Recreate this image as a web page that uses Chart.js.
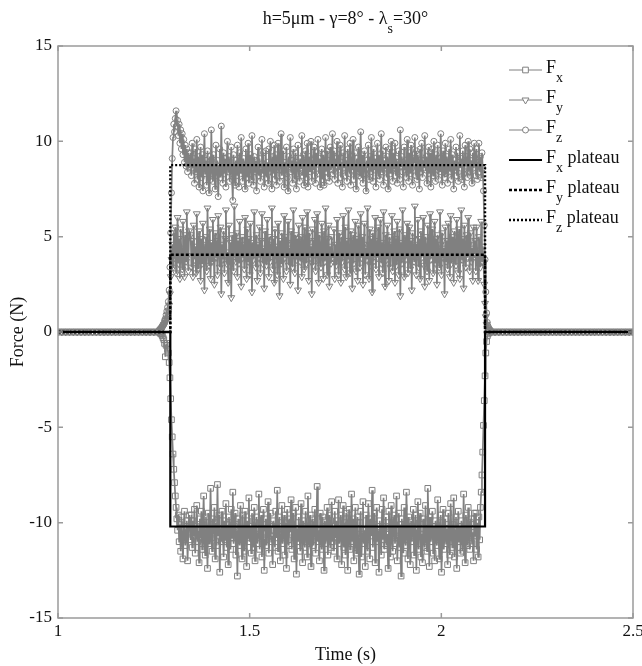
<!DOCTYPE html>
<html><head><meta charset="utf-8">
<script src="https://cdn.jsdelivr.net/npm/chart.js@4.4.1/dist/chart.umd.min.js"></script>
<style>html,body{margin:0;padding:0;background:#fff;}#wrap{width:642px;height:666px;position:relative;}</style>
</head><body><div id="wrap"><canvas id="c" width="642" height="666"></canvas></div>
<script>
// ---- time spans of the sampled segments (s) ----
const preSpan = [1.00, 1.26];
const riseSpan = [1.264, 1.342];
const plateauSpanA = [1.346, 1.716];
const plateauSpanB = [1.718, 2.086];
const fallSpan = [2.088, 2.130];
const postSpan = [2.14, 2.50];

// ---- baseline (no contact) ----
const basePre = [0,0,0,0,0,0,0,0,0,0,0,0,0,0,0,0,0,0,0,0,0,0,0,0,0,0,0];
const basePost = [0,0,0,0,0,0,0,0,0,0,0,0,0,0,0,0,0,0,0,0,0,0,0,0,0,0,0,0,0,0,0,0,0,0,0,0,0];

// ---- Fx (N) ----
const fxRise = [0,0,-0.1,-0.1,-0.2,-0.3,-0.4,-0.6,-1.3,-0.7,-0.6,-0.9,-1.1,-1.6,-2.4,-3.5,-4.6,-5.5,-6.4,-7.2,-7.9,-8.6,-9.2,-9.8,-10.4,-9.6,-11.0,-10.1,-11.5,-9.7,-10.8,-11.9,-10.3,-9.4,-11.2,-10.6,-9.9,-12.0,-10.5,-9.6];
const fxPlateauA = [-10.9,-9.6,-11.3,-9.9,-10.7,-9.3,-11.6,-10.2,-9.1,-11.0,
-10.4,-12.1,-9.8,-10.8,-9.4,-11.4,-10.1,-8.6,-10.9,-11.7,
-9.7,-10.5,-12.4,-9.5,-11.1,-10.3,-8.2,-10.8,-11.5,-9.8,
-10.6,-9.2,-11.9,-10.0,-11.2,-8.0,-10.7,-9.6,-12.6,-10.3,
-11.0,-9.4,-10.5,-11.8,-9.9,-10.9,-9.0,-11.3,-10.1,-12.2,
-9.7,-10.6,-11.4,-9.3,-10.8,-8.4,-11.1,-10.2,-9.5,-11.7,
-10.4,-12.8,-9.8,-10.7,-11.2,-9.1,-10.5,-11.9,-9.6,-10.9,
-11.5,-9.4,-10.3,-12.3,-9.9,-10.8,-8.7,-11.0,-10.2,-11.6,
-9.5,-10.7,-11.3,-9.2,-12.0,-10.4,-9.7,-11.1,-10.6,-8.5,
-11.4,-10.0,-9.6,-11.8,-10.5,-9.3,-12.5,-10.9,-9.8,-11.2,
-10.3,-8.9,-11.6,-10.1,-9.5,-11.0,-10.7,-12.2,-9.9,-10.4,
-11.3,-9.4,-10.8,-8.3,-11.5,-10.2,-9.7,-12.0,-10.6,-9.1,
-11.1,-10.4,-9.6,-11.7,-10.0,-12.4,-9.3,-10.9,-11.2,-9.8,
-10.5,-8.8,-11.4,-10.1,-9.5,-11.9,-10.6,-9.2,-12.7,-10.3,
-11.0,-9.7,-10.8,-11.5,-9.0,-10.4,-12.1,-9.9,-10.7,-11.3,
-9.4,-10.2,-11.8,-8.6,-10.9,-11.1,-9.6,-12.3,-10.5,-9.8,
-11.2,-10.0,-9.3,-11.6,-10.7,-8.1,-11.0,-10.4,-12.0,-9.5,
-10.8,-11.4,-9.7,-10.3,-12.5,-9.9,-11.1,-10.6,-9.2,-11.7,
-10.1,-9.6,-11.3,-10.5,-8.9,-11.0];
const fxPlateauB = [-10.2,-11.5,-9.4,-10.8,-9.9,-11.9,-10.3,-8.8,-11.1,-10.6,
-9.6,-12.2,-10.4,-9.1,-11.3,-10.0,-11.7,-9.5,-10.9,-12.5,
-10.1,-9.3,-11.4,-10.7,-8.5,-11.0,-9.8,-12.0,-10.5,-9.2,
-11.6,-10.3,-9.7,-11.2,-12.7,-10.0,-9.4,-11.8,-10.6,-8.9,
-11.1,-10.4,-12.3,-9.6,-10.9,-11.5,-9.0,-10.2,-11.9,-9.8,
-10.7,-8.3,-11.3,-10.1,-9.5,-12.1,-10.8,-9.2,-11.0,-10.4,
-12.6,-9.9,-10.5,-11.7,-9.3,-10.9,-8.7,-11.4,-10.2,-9.7,
-11.2,-10.6,-12.4,-9.4,-10.3,-11.8,-9.1,-10.7,-11.5,-10.0,
-9.6,-11.1,-10.4,-8.6,-12.0,-10.8,-9.5,-11.3,-10.1,-12.8,
-9.8,-10.6,-11.6,-9.2,-10.9,-11.2,-8.4,-10.3,-11.9,-9.7,
-10.5,-12.2,-9.9,-11.0,-10.2,-9.3,-11.7,-10.8,-9.6,-12.5,
-10.4,-8.9,-11.4,-10.0,-9.5,-11.8,-10.6,-12.1,-9.8,-10.9,
-11.3,-9.1,-10.7,-11.5,-8.2,-10.3,-12.3,-9.7,-11.0,-10.5,
-9.4,-11.6,-10.2,-12.0,-9.9,-10.8,-11.2,-8.8,-10.4,-11.9,
-10.0,-9.6,-12.6,-10.9,-9.3,-11.4,-10.6,-9.8,-11.1,-10.3,
-12.2,-9.5,-10.7,-11.7,-9.0,-10.5,-11.3,-10.1,-8.7,-11.8,
-10.4,-9.7,-12.4,-10.8,-9.4,-11.0,-10.2,-11.6,-9.9,-10.6,
-11.5,-8.5,-10.9,-12.1,-9.6,-10.3,-11.2,-9.2,-10.7,-11.4,
-10.0,-9.8,-11.1,-10.5,-12.0,-9.5];
const fxFall = [-10.7,-9.5,-11.4,-10.0,-11.8,-9.7,-10.9,-9.2,-8.4,-7.5,-6.3,-4.9,-3.6,-2.3,-1.1,-0.5,-0.2,-0.1,0,0,0,0];

// ---- Fy (N) ----
const fyRise = [0,0.1,0.1,0.2,0.2,0.3,0.3,0.4,0.5,0.6,0.7,0.9,1.1,1.4,2.0,2.9,3.8,4.6,3.4,5.2,3.9,5.5,3.1,4.7,6.0,3.6,4.9,2.8,5.4,4.1,3.3,5.8,4.4,2.9,5.1,3.7,6.3,4.0,3.2,5.3];
const fyPlateauA = [5.1,3.4,4.8,2.9,5.6,3.8,4.5,3.1,6.2,4.0,
3.3,5.3,4.1,2.7,4.9,3.6,5.7,3.9,2.2,4.6,
5.0,3.2,6.5,4.2,3.5,5.4,2.8,4.7,3.7,5.9,
4.3,2.5,5.2,3.9,4.8,3.0,6.1,4.4,3.4,5.5,
2.0,4.6,3.8,5.3,3.1,4.9,6.4,3.6,4.2,2.6,
5.6,3.5,4.7,1.8,5.1,4.0,3.2,6.6,4.5,3.7,
5.2,2.9,4.8,3.6,5.8,4.1,2.4,5.0,3.9,4.6,
3.3,6.0,4.4,2.8,5.4,3.7,4.9,3.0,5.7,4.2,
2.1,4.7,3.8,6.3,4.3,3.4,5.1,2.7,4.6,3.9,
5.5,3.1,4.8,6.2,3.6,4.4,2.3,5.3,4.0,3.5,
5.9,4.2,2.9,5.0,3.7,4.6,6.5,3.3,4.9,2.6,
5.4,3.8,4.5,3.0,5.7,4.1,1.9,4.8,3.6,5.2,
4.3,2.8,6.1,3.9,5.0,3.2,4.7,5.8,3.5,4.4,
2.5,5.3,4.0,3.4,6.4,4.6,3.1,5.1,3.8,4.9,
2.2,5.6,4.2,3.7,5.0,2.9,6.0,4.4,3.3,5.5,
4.1,3.6,6.3,4.7,2.7,5.2,3.9,4.5,2.0,5.4,
3.5,4.8,5.9,3.2,4.3,6.2,3.8,2.6,5.1,4.0,
3.4,5.7,4.6,2.8,5.3,3.7,6.5,4.2,3.0,4.9,
5.6,2.4,4.5,3.6,5.0,3.9];
const fyPlateauB = [3.9,5.4,2.8,4.6,3.5,5.9,4.1,3.0,5.2,4.4,
2.6,5.0,3.7,6.1,4.3,3.3,5.5,2.9,4.8,3.8,
6.4,4.0,3.1,5.3,4.5,2.3,5.1,3.6,4.7,5.8,
3.2,4.9,2.7,5.6,4.2,3.4,6.2,3.9,5.0,2.5,
4.6,5.7,3.0,4.4,3.8,6.5,4.1,2.8,5.4,3.5,
4.9,2.1,5.2,3.7,4.5,6.0,3.3,4.8,3.9,5.5,
2.9,4.3,5.9,3.6,4.7,3.1,6.3,4.0,2.4,5.1,
3.8,5.6,4.2,2.7,5.0,3.4,4.6,6.1,3.2,4.4,
5.3,2.6,4.9,3.5,5.8,4.1,3.0,5.4,1.9,4.7,
3.6,6.4,4.3,2.9,5.1,3.8,4.5,5.7,3.1,4.0,
5.5,3.3,4.8,2.2,5.2,4.4,3.7,6.6,4.1,3.0,
4.6,5.9,3.4,4.9,2.8,5.3,3.9,4.2,6.0,3.5,
2.4,5.0,4.5,3.2,5.6,4.0,2.7,6.2,3.8,4.7,
5.4,3.1,4.3,5.8,3.6,4.9,2.5,5.1,4.2,3.4,
6.3,4.6,3.0,5.2,3.9,4.4,2.0,5.5,3.7,4.8,
3.3,5.7,4.1,2.9,6.1,3.6,5.0,4.5,2.6,5.3,
4.0,3.5,5.9,4.7,3.1,5.4,2.8,4.3,6.4,3.8,
4.9,2.3,5.6,4.2,3.4,5.1,3.9,6.0,4.6,3.2,
5.2,3.7,4.4,2.7,5.5,4.1];
const fyFall = [4.8,3.2,5.5,3.9,2.7,5.0,4.3,3.4,5.8,3.7,4.5,3.6,2.5,1.5,0.8,0.4,0.2,0.1,0.1,0,0,0];

// ---- Fz (N) ----
const fzRise = [0.1,0.1,0.2,0.2,0.3,0.4,0.4,0.6,0.7,0.9,1.1,1.3,1.6,2.2,3.4,5.2,7.3,9.1,10.2,10.9,10.5,11.2,11.6,10.8,11.1,10.3,10.9,9.9,10.6,9.6,10.4,9.3,10.1,8.9,9.8,8.7,9.6,8.4,9.4,8.6];
const fzPlateauA = [9.4,8.2,9.9,8.6,9.1,7.8,9.6,8.4,10.1,8.0,
9.2,7.6,8.9,9.7,8.1,9.3,7.4,8.8,10.4,8.3,
9.0,7.7,9.5,8.5,7.3,9.2,8.0,10.6,8.6,7.9,
9.3,8.4,7.5,9.8,8.2,9.0,7.1,8.7,9.6,8.1,
10.8,8.5,7.8,9.4,8.3,9.1,7.6,8.9,10.0,8.4,
9.2,7.9,8.6,9.7,8.0,6.9,9.3,8.5,7.7,9.0,
8.2,9.8,8.6,7.6,9.4,8.3,10.2,8.8,7.9,9.1,
8.4,7.5,9.6,8.7,8.1,9.9,7.8,8.9,9.3,8.0,
10.3,8.6,7.7,9.2,8.4,9.0,7.4,8.8,9.7,8.2,
9.1,7.9,8.5,10.1,8.3,9.4,7.6,8.7,9.5,8.1,
8.9,7.8,9.6,8.4,10.0,8.6,7.5,9.2,8.3,9.8,
8.0,9.3,7.7,8.8,9.9,8.5,7.9,9.1,10.4,8.2,
8.7,9.5,7.6,8.9,8.3,9.7,8.1,7.4,9.2,8.6,
10.2,8.4,9.0,7.8,9.6,8.7,8.0,9.4,7.5,8.9,
9.8,8.3,7.9,9.1,8.6,10.3,8.2,9.3,7.7,8.8,
9.5,8.1,9.9,7.6,8.7,9.2,8.4,10.0,7.9,9.0,
8.5,9.7,8.2,7.8,9.4,8.8,10.1,8.3,9.1,7.6,
8.9,9.6,8.0,9.3,7.7,8.6,10.2,8.4,9.5,8.1,
9.0,7.9,9.7,8.5,8.8,10.4];
const fzPlateauB = [8.3,9.5,8.0,9.1,8.7,10.0,7.8,9.3,8.5,9.8,
8.1,8.9,7.6,9.4,8.6,10.3,8.2,9.0,7.9,9.6,
8.8,8.3,9.9,7.7,9.2,8.5,10.1,8.0,9.4,8.6,
7.5,9.1,8.4,9.7,8.2,8.9,10.5,8.1,9.3,7.8,
8.7,9.5,8.3,7.4,9.0,8.6,9.8,8.0,9.2,8.4,
10.2,8.8,7.9,9.6,8.5,9.1,7.6,8.9,9.9,8.2,
9.3,8.0,8.7,10.4,8.4,9.5,7.7,9.0,8.6,9.7,
8.1,9.2,7.5,8.8,9.6,8.3,10.0,8.5,7.9,9.4,
8.6,9.9,8.2,9.1,7.8,8.9,9.5,8.0,10.6,8.7,
9.2,8.4,7.6,9.7,8.5,9.0,8.1,10.1,8.8,7.9,
9.4,8.3,9.8,8.6,7.7,9.1,8.9,10.2,8.2,9.5,
8.0,9.3,8.7,7.5,9.6,8.4,9.9,8.1,9.0,8.6,
10.3,8.5,9.2,7.8,8.9,9.7,8.3,9.4,7.6,8.8,
9.6,8.2,10.0,8.7,7.9,9.3,8.5,9.8,8.0,9.1,
8.4,10.4,8.6,7.7,9.5,8.9,8.1,9.9,8.3,9.2,
7.8,8.8,9.6,8.4,10.1,8.0,9.3,8.7,7.5,9.0,
8.5,9.7,8.2,9.4,7.9,8.9,10.3,8.6,9.1,8.0,
9.5,8.3,7.6,9.8,8.7,9.2,8.1,10.0,8.4,9.6,
8.2,9.0,7.8,9.4,8.6,9.9];
const fzFall = [9.1,8.2,9.6,8.0,8.9,9.9,8.4,9.2,8.1,9.4,8.6,7.4,5.6,3.8,2.1,1.0,0.5,0.3,0.2,0.1,0.1,0];

// ---- fitted plateaus ----
const plateauTimes = [1.0, 1.293, 1.293, 2.114, 2.114, 2.5];
const fxPlateauLine = [0, 0, -10.2, -10.2, 0, 0];
const fyPlateauLine = [0, 0, 4.05, 4.05, 0, 0];
const fzPlateauLine = [0, 0, 8.75, 8.75, 0, 0];

// ---- axis ticks ----
const xTicks = [1, 1.5, 2, 2.5];
const yTicks = [-15, -10, -5, 0, 5, 10, 15];

function segment(span, vals) {
  const n = vals.length, out = [];
  for (let i = 0; i < n; i++) out.push({x: span[0] + (n > 1 ? i * (span[1] - span[0]) / (n - 1) : 0), y: vals[i]});
  return out;
}
function series(parts) { return parts.flatMap(([s, v]) => segment(s, v)); }

const gray = 'rgb(128,128,128)';
const FONT = '"Liberation Serif", "Times New Roman", serif';

const datasets = [
  {label: 'Fx', sub: 'x', rest: '', data: series([[preSpan, basePre], [riseSpan, fxRise], [plateauSpanA, fxPlateauA], [plateauSpanB, fxPlateauB], [fallSpan, fxFall], [postSpan, basePost]]),
   borderColor: gray, borderWidth: 1.7, legendWidth: 1, pointStyle: 'rect', pointRadius: 4, pointRotation: 0, pointBorderColor: gray, pointBackgroundColor: 'rgba(0,0,0,0)', pointBorderWidth: 1, order: 2},
  {label: 'Fy', sub: 'y', rest: '', data: series([[preSpan, basePre], [riseSpan, fyRise], [plateauSpanA, fyPlateauA], [plateauSpanB, fyPlateauB], [fallSpan, fyFall], [postSpan, basePost]]),
   borderColor: gray, borderWidth: 1.7, legendWidth: 1, pointStyle: 'triangle', pointRadius: 4, pointRotation: 180, pointBorderColor: gray, pointBackgroundColor: 'rgba(0,0,0,0)', pointBorderWidth: 1, order: 2},
  {label: 'Fz', sub: 'z', rest: '', data: series([[preSpan, basePre], [riseSpan, fzRise], [plateauSpanA, fzPlateauA], [plateauSpanB, fzPlateauB], [fallSpan, fzFall], [postSpan, basePost]]),
   borderColor: gray, borderWidth: 1.7, legendWidth: 1, pointStyle: 'circle', pointRadius: 3, pointRotation: 0, pointBorderColor: gray, pointBackgroundColor: 'rgba(0,0,0,0)', pointBorderWidth: 1, order: 2},
  {label: 'Fx plateau', sub: 'x', rest: ' plateau', data: plateauTimes.map((t, i) => ({x: t, y: fxPlateauLine[i]})),
   borderColor: '#000', borderWidth: 2.2, pointRadius: 0, order: 1},
  {label: 'Fy plateau', sub: 'y', rest: ' plateau', data: plateauTimes.map((t, i) => ({x: t, y: fyPlateauLine[i]})),
   borderColor: '#000', borderWidth: 2.4, borderDash: [3, 2], pointRadius: 0, order: 1},
  {label: 'Fz plateau', sub: 'z', rest: ' plateau', data: plateauTimes.map((t, i) => ({x: t, y: fzPlateauLine[i]})),
   borderColor: '#000', borderWidth: 2.4, borderDash: [2, 2], pointRadius: 0, order: 1}
];

const decor = {
  id: 'decor',
  afterDatasetsDraw(chart) {
    const {ctx, chartArea: a, scales} = chart;
    ctx.save();
    ctx.strokeStyle = '#9a9a9a';
    ctx.lineWidth = 1.5;
    ctx.strokeRect(a.left, a.top, a.right - a.left, a.bottom - a.top);
    ctx.beginPath();
    xTicks.forEach(v => {
      const x = scales.x.getPixelForValue(v);
      ctx.moveTo(x, a.bottom); ctx.lineTo(x, a.bottom - 5);
      ctx.moveTo(x, a.top); ctx.lineTo(x, a.top + 5);
    });
    yTicks.forEach(v => {
      const y = scales.y.getPixelForValue(v);
      ctx.moveTo(a.left, y); ctx.lineTo(a.left + 5, y);
      ctx.moveTo(a.right, y); ctx.lineTo(a.right - 5, y);
    });
    ctx.stroke();
    ctx.restore();
  },
  afterDraw(chart) {
    const {ctx, chartArea: a} = chart;
    ctx.save();
    ctx.fillStyle = '#111';
    ctx.textBaseline = 'alphabetic';
    const big = '18px ' + FONT, small = '14px ' + FONT;
    const parts = [['h=5μm - γ=8° - λ', false], ['s', true], ['=30°', false]];
    let total = 0;
    parts.forEach(([t, s]) => { ctx.font = s ? small : big; total += ctx.measureText(t).width; });
    let x = (a.left + a.right) / 2 - total / 2;
    parts.forEach(([t, s]) => {
      ctx.font = s ? small : big;
      ctx.fillText(t, x, s ? 33 : 24);
      x += ctx.measureText(t).width;
    });
    const rows = [70, 100, 130, 160, 190, 220];
    chart.data.datasets.forEach((ds, i) => {
      const y = rows[i];
      ctx.save();
      ctx.strokeStyle = ds.borderColor;
      ctx.lineWidth = ds.legendWidth || ds.borderWidth;
      ctx.setLineDash(ds.borderDash || []);
      ctx.beginPath(); ctx.moveTo(509, y); ctx.lineTo(542, y); ctx.stroke();
      ctx.setLineDash([]);
      if (ds.pointRadius > 0) {
        ctx.strokeStyle = ds.pointBorderColor;
        ctx.fillStyle = '#fff';
        ctx.lineWidth = 1;
        Chart.helpers.drawPoint(ctx, {pointStyle: ds.pointStyle, rotation: ds.pointRotation, radius: ds.pointRadius, borderWidth: 1}, 525.5, y);
      }
      ctx.restore();
      ctx.fillStyle = '#111';
      let tx = 546;
      ctx.font = big; ctx.fillText('F', tx, y + 3); tx += ctx.measureText('F').width;
      ctx.font = small; ctx.fillText(ds.sub, tx, y + 12); tx += ctx.measureText(ds.sub).width;
      if (ds.rest) { ctx.font = big; ctx.fillText(ds.rest, tx, y + 3); }
    });
    ctx.restore();
  }
};

new Chart(document.getElementById('c'), {
  type: 'line',
  data: {datasets},
  options: {
    responsive: false, animation: false, events: [],
    layout: {padding: {top: 46, right: 9, left: 0, bottom: 0}},
    plugins: {legend: {display: false}, title: {display: false}, tooltip: {enabled: false}},
    scales: {
      x: {type: 'linear', min: 1, max: 2.5,
          afterBuildTicks: s => { s.ticks = xTicks.map(v => ({value: v})); },
          ticks: {font: {family: FONT, size: 17}, color: '#111', padding: 3, maxRotation: 0, callback: v => String(v)},
          grid: {display: false, drawTicks: false}, border: {display: false},
          title: {display: true, text: 'Time (s)', font: {family: FONT, size: 18}, color: '#111', padding: {top: 0, bottom: 0}},
          afterFit: s => { s.height = 48; s.paddingLeft = 0; s.paddingRight = 0; }},
      y: {type: 'linear', min: -15, max: 15,
          afterBuildTicks: s => { s.ticks = yTicks.map(v => ({value: v})); },
          ticks: {font: {family: FONT, size: 17}, color: '#111', padding: 6, callback: v => String(v)},
          grid: {display: false, drawTicks: false}, border: {display: false},
          title: {display: true, text: 'Force (N)', font: {family: FONT, size: 18}, color: '#111', padding: {top: 7, bottom: 0}},
          afterFit: s => { s.width = 58; s.paddingTop = 0; s.paddingBottom = 0; }}
    }
  },
  plugins: [decor]
});
</script></body></html>
